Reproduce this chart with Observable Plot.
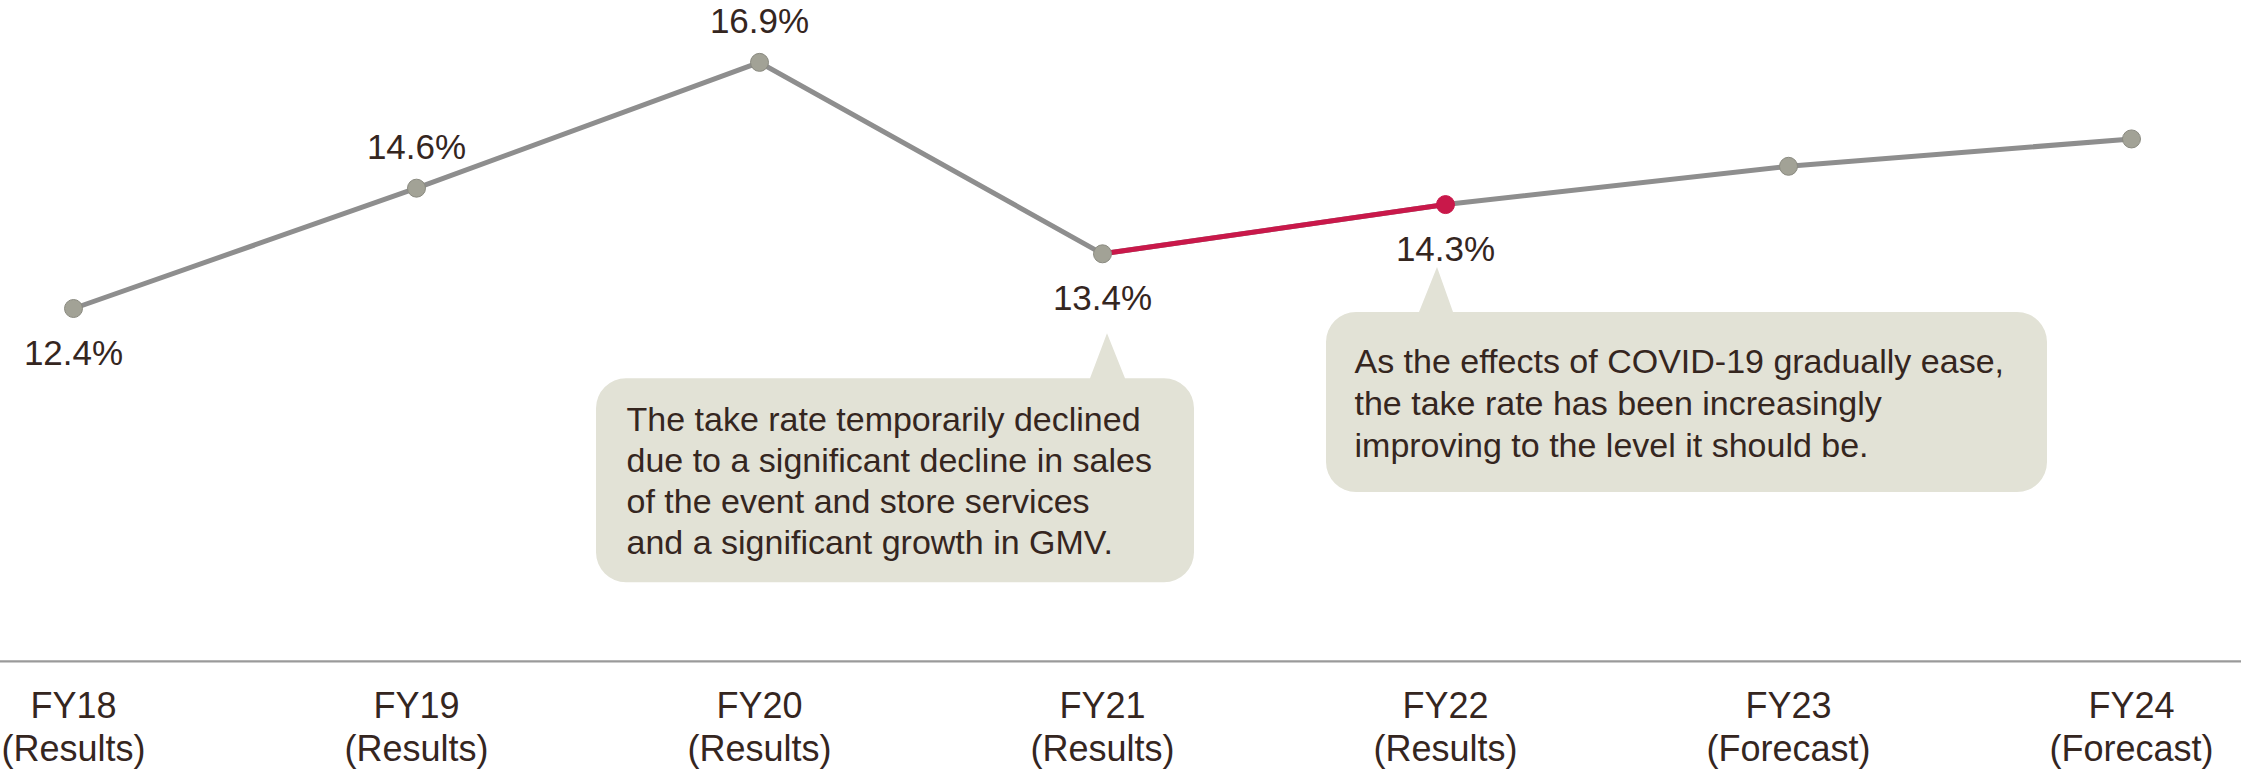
<!DOCTYPE html>
<html>
<head>
<meta charset="utf-8">
<script src="https://cdn.jsdelivr.net/npm/d3@7"></script>
<script src="https://cdn.jsdelivr.net/npm/@observablehq/plot@0.6"></script>
<style>
  html, body { margin: 0; padding: 0; background: #ffffff; }
  #chart svg { display: block; }
</style>
</head>
<body>
<div id="chart"></div>
<script>
// ---- data ----
const categories = ["FY18", "FY19", "FY20", "FY21", "FY22", "FY23", "FY24"];
const periods = ["Results", "Results", "Results", "Results", "Results", "Forecast", "Forecast"];
const takeRate = [12.4, 14.6, 16.9, 13.4, 14.3, 15.0, 15.5];
const valueLabels = ["12.4%", "14.6%", "16.9%", "13.4%", "14.3%", "", ""];
const highlighted = ["FY21", "FY22"];
const labelsAbove = ["FY19", "FY20"];
const callout1Lines = [
  "The take rate temporarily declined",
  "due to a significant decline in sales",
  "of the event and store services",
  "and a significant growth in GMV."
];
const callout2Lines = [
  "As the effects of COVID-19 gradually ease,",
  "the take rate has been increasingly",
  "improving to the level it should be."
];

// ---- build table ----
const rows = categories.map((c, i) => ({
  cat: c, period: periods[i], value: takeRate[i], label: valueLabels[i]
}));
const redRows = rows.filter(d => highlighted.includes(d.cat));
const aboveRows = rows.filter(d => d.label && labelsAbove.includes(d.cat));
const belowRows = rows.filter(d => d.label && !labelsAbove.includes(d.cat));

const textColor = "#35261f";
const boxFill = "#e2e2d6";
const grayLine = "#8e8e8e";
const red = "#c9184a";

// callout balloon drawn in pixel space relative to a data point (via Plot scales)
function balloon(cat, value, o) {
  return (index, scales) => {
    const px = scales.x(cat), py = scales.y(value);
    const L = px + o.left, R = px + o.right, T = py + o.top, B = py + o.bottom;
    const tx = px + o.tipX, ty = py + o.tipY;
    const b1 = px + o.base1, b2 = px + o.base2;
    const r = o.r;
    const d = [
      `M${L + r},${T}`,
      `L${b1},${T}`, `L${tx},${ty}`, `L${b2},${T}`,
      `L${R - r},${T}`,
      `A${r},${r} 0 0 1 ${R},${T + r}`,
      `L${R},${B - r}`,
      `A${r},${r} 0 0 1 ${R - r},${B}`,
      `L${L + r},${B}`,
      `A${r},${r} 0 0 1 ${L},${B - r}`,
      `L${L},${T + r}`,
      `A${r},${r} 0 0 1 ${L + r},${T}`,
      "Z"
    ].join(" ");
    const path = document.createElementNS("http://www.w3.org/2000/svg", "path");
    path.setAttribute("d", d);
    path.setAttribute("fill", boxFill);
    return path;
  };
}

const chart = Plot.plot({
  width: 2241,
  height: 771,
  marginLeft: 0,
  marginRight: 0,
  marginTop: 56.4,
  marginBottom: 110.2,
  style: { fontFamily: "'Liberation Sans', Arial, Helvetica, sans-serif", color: textColor, background: "#ffffff" },
  x: { domain: categories, range: [71, 2132], padding: 0, label: null },
  y: { domain: [5.95, 17], axis: null, label: null },
  marks: [
    Plot.ruleY([5.95], { stroke: "#9a9a9a", strokeWidth: 2.2 }),
    Plot.axisX({
      label: null,
      tickSize: 0,
      tickPadding: 26,
      fontSize: 36,
      lineHeight: 1.19,
      fill: textColor,
      tickFormat: c => `${c}\n(${periods[categories.indexOf(c)]})`
    }),
    balloon("FY21", 13.4, { left: -506, right: 92, top: 125, bottom: 329, tipX: 5, tipY: 80, base1: -12, base2: 23, r: 30 }),
    balloon("FY22", 14.3, { left: -119, right: 602, top: 108, bottom: 288, tipX: -8, tipY: 63, base1: -26, base2: 8, r: 30 }),
    Plot.text([{ cat: "FY21", value: 13.4, t: callout1Lines.join("\n") }], {
      x: "cat", y: "value", text: "t", dx: -476, dy: 147.4,
      textAnchor: "start", lineAnchor: "top", lineHeight: 1.215,
      fontSize: 34, fill: textColor
    }),
    Plot.text([{ cat: "FY22", value: 14.3, t: callout2Lines.join("\n") }], {
      x: "cat", y: "value", text: "t", dx: -91, dy: 139.3,
      textAnchor: "start", lineAnchor: "top", lineHeight: 1.226,
      fontSize: 34, fill: textColor
    }),
    Plot.line(rows, { x: "cat", y: "value", stroke: grayLine, strokeWidth: 5 }),
    Plot.line(redRows, { x: "cat", y: "value", stroke: red, strokeWidth: 5 }),
    Plot.dot(rows, {
      x: "cat", y: "value", r: 9,
      fill: d => highlighted[1] === d.cat ? red : "#a2a296",
      stroke: d => highlighted[1] === d.cat ? red : "#8a8a80",
      strokeWidth: 1
    }),
    Plot.text(aboveRows, { x: "cat", y: "value", text: "label", dy: -29, lineAnchor: "bottom", fontSize: 35, fill: textColor }),
    Plot.text(belowRows, { x: "cat", y: "value", text: "label", dy: 56, lineAnchor: "bottom", fontSize: 35, fill: textColor })
  ]
});
document.getElementById("chart").appendChild(chart);
</script>
</body>
</html>
